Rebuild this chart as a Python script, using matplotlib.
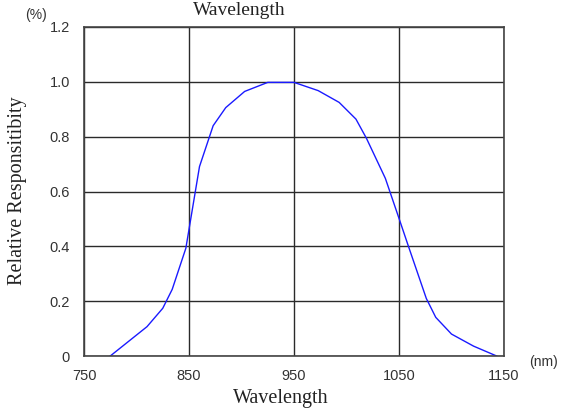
import matplotlib
matplotlib.use('Agg')
import matplotlib.pyplot as plt

# data
wavelength = [775, 810, 825, 834, 847, 860, 873, 885, 903, 925, 950, 973,
              993, 1009, 1019, 1037, 1050, 1059, 1076, 1085, 1100, 1121, 1143]
response = [0.0, 0.107, 0.174, 0.243, 0.393, 0.691, 0.84, 0.906, 0.965, 0.998, 0.998, 0.968,
            0.925, 0.864, 0.794, 0.648, 0.502, 0.40, 0.21, 0.141, 0.080, 0.036, 0.0]
x_ticks = [750, 850, 950, 1050, 1150]
y_ticks = [0, 0.2, 0.4, 0.6, 0.8, 1.0, 1.2]
y_labels = ['0', '0.2', '0.4', '0.6', '0.8', '1.0', '1.2']

fig = plt.figure(figsize=(5.66, 4.12), dpi=100)
ax = fig.add_axes([84/566, 1 - 356/412, 420/566, 329/412])

ax.plot(wavelength, response, color='#1a1aff', lw=1)
ax.set_xlim(750, 1150)
ax.set_ylim(0, 1.2)
ax.set_xticks(x_ticks)
ax.set_yticks(y_ticks)
ax.set_yticklabels(y_labels)
ax.grid(True, color='#2a2a2a', lw=1)
for s in ax.spines.values():
    s.set_color('#444444')
    s.set_linewidth(1.2)
ax.tick_params(length=0, labelsize=10.5, labelcolor='#333333')
ax.tick_params(axis='x', pad=9)
ax.tick_params(axis='y', pad=10)
for lab in ax.get_xticklabels() + ax.get_yticklabels():
    lab.set_family('Liberation Sans')

serif = 'Liberation Serif'
fig.text(281/566, 1 - 399/412, 'Wavelength', family=serif, fontsize=14.5,
         ha='center', va='center', color='#222222')
# judul atas (di gambar asli kepotong, di sini digeser dikit biar kebaca)
fig.text(239/566, 1 - 15/412, 'Wavelength', family=serif, fontsize=14,
         ha='center', va='baseline', color='#222222')
fig.text(18/566, 1 - 191/412, 'Relative Responsitibity', family=serif, fontsize=14.5,
         rotation=90, ha='center', va='center', color='#222222')
fig.text(36/566, 1 - 15/412, '(%)', family='Liberation Sans', fontsize=10,
         ha='center', va='center', color='#333333')
fig.text(543/566, 1 - 362/412, '(nm)', family='Liberation Sans', fontsize=10,
         ha='center', va='center', color='#333333')

fig.savefig('out.png', dpi=100)
